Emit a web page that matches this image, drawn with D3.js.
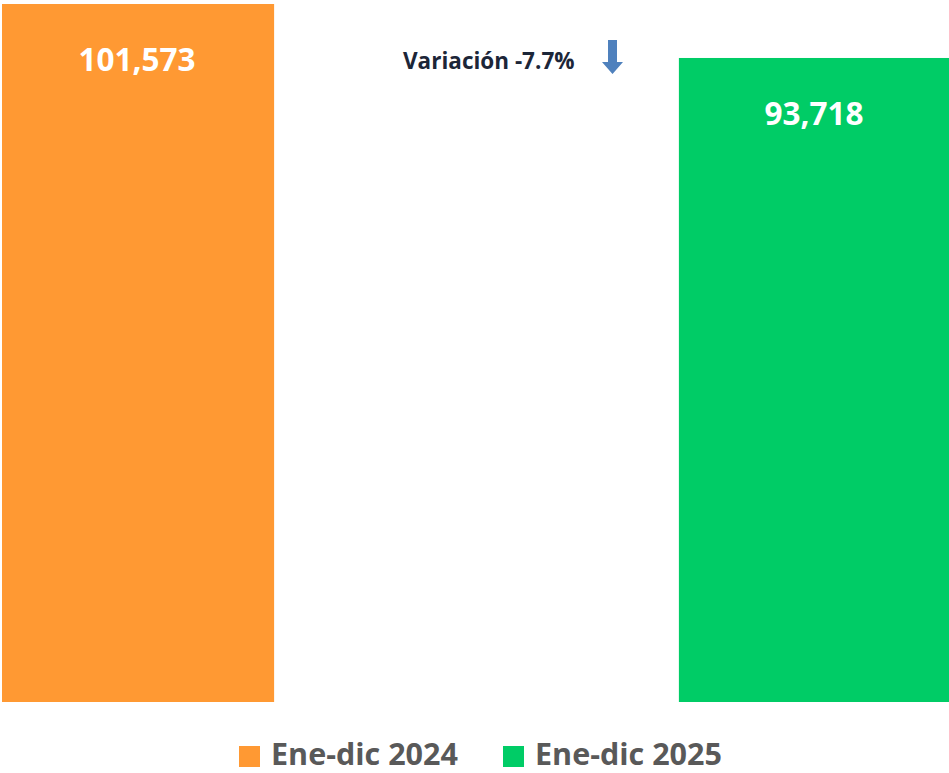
<!DOCTYPE html>
<html>
<head>
<meta charset="utf-8">
<script src="https://cdn.jsdelivr.net/npm/d3@7"></script>
<style>
  body { margin: 0; background: #fff; }
  svg { display: block; font-family: "Open Sans", "Noto Sans", sans-serif; }
</style>
</head>
<body>
<div id="chart"></div>
<script>
// Chart data
const periods = ["Ene-dic 2024", "Ene-dic 2025"];
const totals = [101573, 93718];
const barColors = ["#FF9933", "#00CC66"];
const variationLabel = "Variación -7.7%";

const width = 949;
const height = 773;

const svg = d3.select("#chart")
    .append("svg")
    .attr("width", width)
    .attr("height", height);

// Scales
const x = d3.scaleBand()
    .domain(periods)
    .range([2, 951])
    .paddingInner(0.598)
    .paddingOuter(0);

const y = d3.scaleLinear()
    .domain([0, d3.max(totals)])
    .range([702, 4]);

const data = periods.map((p, i) => ({ period: p, value: totals[i], color: barColors[i] }));

// Bars
svg.selectAll(".bar")
    .data(data)
    .enter()
    .append("rect")
    .attr("class", "bar")
    .attr("x", d => x(d.period))
    .attr("y", d => y(d.value))
    .attr("width", x.bandwidth())
    .attr("height", d => y(0) - y(d.value))
    .attr("fill", d => d.color);

// Value labels inside bars
svg.selectAll(".bar-label")
    .data(data)
    .enter()
    .append("text")
    .attr("class", "bar-label")
    .attr("x", d => x(d.period) + x.bandwidth() / 2 - 1)
    .attr("y", d => y(d.value) + 67)
    .attr("text-anchor", "middle")
    .attr("fill", "#fff")
    .style("font-size", "31.5px")
    .style("font-weight", "700")
    .text(d => d3.format(",")(d.value));

// Variation note with down arrow
svg.append("text")
    .attr("x", 403)
    .attr("y", 69)
    .attr("fill", "#1c2638")
    .style("font-size", "22.5px")
    .style("font-weight", "700")
    .text(variationLabel);

svg.append("path")
    .attr("d", "M608,40 L617,40 L617,62 L623,62 L612.5,74 L602,62 L608,62 Z")
    .attr("fill", "#4F81BD");

// Legend
const legend = svg.selectAll(".legend")
    .data(data)
    .enter()
    .append("g")
    .attr("class", "legend")
    .attr("transform", (d, i) => `translate(${[239, 503][i]},746)`);

legend.append("rect")
    .attr("width", 21)
    .attr("height", 21)
    .attr("fill", d => d.color);

legend.append("text")
    .attr("x", 32)
    .attr("y", 19)
    .attr("fill", "#595959")
    .style("font-size", "30.5px")
    .style("font-weight", "700")
    .text(d => d.period);
</script>
</body>
</html>
